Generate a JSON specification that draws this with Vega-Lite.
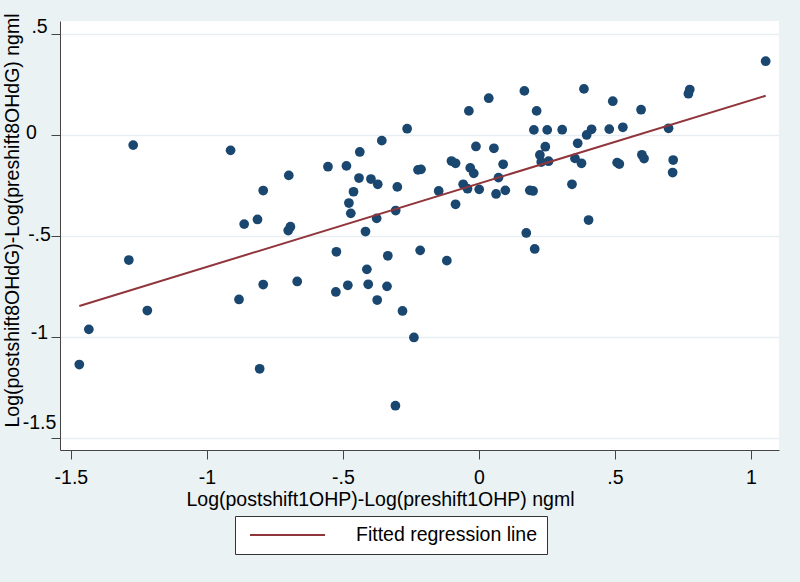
{
  "$schema": "https://vega.github.io/schema/vega-lite/v6.json",
  "width": 719,
  "height": 429,
  "autosize": {"type": "none"},
  "padding": {"left": 60, "top": 21, "right": 21, "bottom": 132},
  "background": "#EAF2F3",
  "config": {
    "view": {"fill": "#ffffff", "stroke": null},
    "font": "Liberation Sans",
    "axis": {
      "domainColor": "#444444",
      "domainWidth": 1,
      "tickColor": "#444444",
      "tickSize": 9,
      "tickWidth": 1,
      "labelFont": "Liberation Sans",
      "labelFontSize": 19.5,
      "labelColor": "#000000",
      "titleFont": "Liberation Sans",
      "titleFontSize": 19.5,
      "titleFontWeight": "normal",
      "titleColor": "#000000"
    }
  },
  "datasets": {
    "points": [
      {"ohp": -1.271, "ohdg": -0.050}, {"ohp": -0.913, "ohdg": -0.076}, {"ohp": -1.287, "ohdg": -0.619},
      {"ohp": -1.219, "ohdg": -0.869}, {"ohp": -1.434, "ohdg": -0.962}, {"ohp": -1.469, "ohdg": -1.136},
      {"ohp": -0.882, "ohdg": -0.814}, {"ohp": -0.264, "ohdg": 0.031}, {"ohp": -0.357, "ohdg": -0.028},
      {"ohp": -0.438, "ohdg": -0.084}, {"ohp": -0.555, "ohdg": -0.157}, {"ohp": -0.487, "ohdg": -0.153},
      {"ohp": -0.699, "ohdg": -0.200}, {"ohp": -0.441, "ohdg": -0.213}, {"ohp": -0.397, "ohdg": -0.218},
      {"ohp": -0.372, "ohdg": -0.244}, {"ohp": -0.300, "ohdg": -0.257}, {"ohp": -0.224, "ohdg": -0.173},
      {"ohp": -0.213, "ohdg": -0.170}, {"ohp": -0.793, "ohdg": -0.275}, {"ohp": -0.461, "ohdg": -0.281},
      {"ohp": -0.478, "ohdg": -0.337}, {"ohp": -0.471, "ohdg": -0.388}, {"ohp": -0.306, "ohdg": -0.374},
      {"ohp": -0.376, "ohdg": -0.413}, {"ohp": -0.863, "ohdg": -0.441}, {"ohp": -0.814, "ohdg": -0.418},
      {"ohp": -0.693, "ohdg": -0.454}, {"ohp": -0.701, "ohdg": -0.473}, {"ohp": -0.417, "ohdg": -0.478},
      {"ohp": -0.524, "ohdg": -0.578}, {"ohp": -0.335, "ohdg": -0.598}, {"ohp": -0.216, "ohdg": -0.571},
      {"ohp": -0.412, "ohdg": -0.665}, {"ohp": -0.793, "ohdg": -0.740}, {"ohp": -0.668, "ohdg": -0.725},
      {"ohp": -0.526, "ohdg": -0.777}, {"ohp": -0.482, "ohdg": -0.744}, {"ohp": -0.407, "ohdg": -0.739},
      {"ohp": -0.338, "ohdg": -0.749}, {"ohp": -0.374, "ohdg": -0.817}, {"ohp": -0.281, "ohdg": -0.871},
      {"ohp": -0.239, "ohdg": -1.002}, {"ohp": -0.806, "ohdg": -1.157}, {"ohp": -0.307, "ohdg": -1.340},
      {"ohp": -0.037, "ohdg": 0.119}, {"ohp": 0.036, "ohdg": 0.182}, {"ohp": 0.167, "ohdg": 0.218},
      {"ohp": 0.386, "ohdg": 0.228}, {"ohp": 0.212, "ohdg": 0.119}, {"ohp": 0.202, "ohdg": 0.025},
      {"ohp": 0.251, "ohdg": 0.025}, {"ohp": 0.306, "ohdg": 0.026}, {"ohp": 0.396, "ohdg": 0.000},
      {"ohp": 0.414, "ohdg": 0.028}, {"ohp": -0.011, "ohdg": -0.057}, {"ohp": 0.055, "ohdg": -0.066},
      {"ohp": 0.244, "ohdg": -0.058}, {"ohp": 0.363, "ohdg": -0.041}, {"ohp": -0.101, "ohdg": -0.129},
      {"ohp": -0.086, "ohdg": -0.140}, {"ohp": -0.032, "ohdg": -0.163}, {"ohp": -0.019, "ohdg": -0.190},
      {"ohp": 0.089, "ohdg": -0.145}, {"ohp": 0.224, "ohdg": -0.099}, {"ohp": 0.229, "ohdg": -0.134},
      {"ohp": 0.256, "ohdg": -0.130}, {"ohp": 0.353, "ohdg": -0.116}, {"ohp": 0.377, "ohdg": -0.140},
      {"ohp": 0.072, "ohdg": -0.211}, {"ohp": -0.058, "ohdg": -0.244}, {"ohp": -0.042, "ohdg": -0.266},
      {"ohp": 0.001, "ohdg": -0.269}, {"ohp": -0.148, "ohdg": -0.277}, {"ohp": 0.063, "ohdg": -0.292},
      {"ohp": 0.097, "ohdg": -0.274}, {"ohp": 0.187, "ohdg": -0.274}, {"ohp": 0.199, "ohdg": -0.277},
      {"ohp": 0.342, "ohdg": -0.244}, {"ohp": -0.086, "ohdg": -0.343}, {"ohp": 0.403, "ohdg": -0.421},
      {"ohp": 0.174, "ohdg": -0.485}, {"ohp": -0.118, "ohdg": -0.622}, {"ohp": 0.205, "ohdg": -0.564},
      {"ohp": 1.054, "ohdg": 0.365}, {"ohp": 0.775, "ohdg": 0.225}, {"ohp": 0.770, "ohdg": 0.204},
      {"ohp": 0.492, "ohdg": 0.167}, {"ohp": 0.596, "ohdg": 0.125}, {"ohp": 0.479, "ohdg": 0.029},
      {"ohp": 0.529, "ohdg": 0.038}, {"ohp": 0.697, "ohdg": 0.033}, {"ohp": 0.508, "ohdg": -0.137},
      {"ohp": 0.516, "ohdg": -0.144}, {"ohp": 0.599, "ohdg": -0.098}, {"ohp": 0.607, "ohdg": -0.117},
      {"ohp": 0.714, "ohdg": -0.124}, {"ohp": 0.712, "ohdg": -0.186}
    ],
    "fit": [
      {"ohp": -1.469, "ohdg": -0.846, "series": "Fitted regression line"},
      {"ohp": 1.054, "ohdg": 0.194, "series": "Fitted regression line"}
    ]
  },
  "layer": [
    {
      "data": {"name": "points"},
      "mark": {"type": "circle", "size": 95, "opacity": 1, "color": "#1A476F"},
      "encoding": {
        "x": {
          "field": "ohp",
          "type": "quantitative",
          "scale": {"domain": [-1.54, 1.103], "nice": false, "zero": false},
          "axis": {
            "title": "Log(postshift1OHP)-Log(preshift1OHP) ngml",
            "values": [-1.5, -1, -0.5, 0, 0.5, 1],
            "labelExpr": "replace(datum.value + '', '0.', '.')",
            "grid": false,
            "labelPadding": 9,
            "titleX": 320,
            "titleY": 55,
            "titleAlign": "center",
            "titleBaseline": "alphabetic"
          }
        },
        "y": {
          "field": "ohdg",
          "type": "quantitative",
          "scale": {"domain": [-1.559, 0.564], "nice": false, "zero": false},
          "axis": {
            "title": "Log(postshift8OHdG)-Log(preshift8OHdG) ngml",
            "values": [-1.5, -1, -0.5, 0, 0.5],
            "labelExpr": "replace(datum.value + '', '0.', '.')",
            "grid": true,
            "gridColor": "#E6EEF1",
            "gridWidth": 1.5,
            "labelAlign": "center",
            "labelBaseline": "middle",
            "labelPadding": {"condition": {"test": "datum.value == 0", "value": 20}, "value": 12},
            "labelOffset": {
              "condition": [
                {"test": "datum.value == -1.5", "value": -16},
                {"test": "datum.value == -1", "value": -5},
                {"test": "datum.value == 0.5", "value": -7}
              ],
              "value": -2
            },
            "titleAngle": 270,
            "titleX": -42,
            "titleY": 199,
            "titleAlign": "center",
            "titleBaseline": "alphabetic"
          }
        }
      }
    },
    {
      "data": {"name": "fit"},
      "mark": {"type": "line", "strokeWidth": 2},
      "encoding": {
        "x": {"field": "ohp", "type": "quantitative"},
        "y": {"field": "ohdg", "type": "quantitative"},
        "color": {
          "field": "series",
          "type": "nominal",
          "scale": {"domain": ["Fitted regression line"], "range": ["#90353B"]},
          "legend": {
            "title": null,
            "orient": "none",
            "legendX": 175,
            "legendY": 495,
            "symbolType": "stroke",
            "symbolSize": 5625,
            "symbolStrokeWidth": 2,
            "symbolOffset": 5,
            "labelOffset": 30,
            "labelFontSize": 19.5,
            "labelFont": "Liberation Sans",
            "labelColor": "#000000",
            "labelLimit": 0,
            "fillColor": "#ffffff",
            "strokeColor": "#333333",
            "padding": 9,
            "clipHeight": 20,
            "cornerRadius": 0
          }
        }
      }
    }
  ]
}
